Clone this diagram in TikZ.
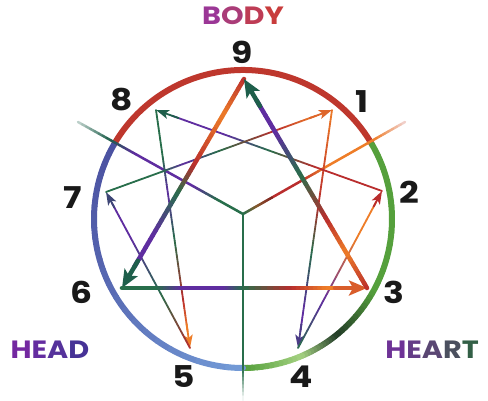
\documentclass[tikz,border=0pt]{standalone}
\usepackage{fontspec}
\newfontfamily\labelfont{Poppins}[FakeStretch=1.15]
\usetikzlibrary{calc,arrows.meta}

\definecolor{ered}{RGB}{185,45,45}
\definecolor{eorange}{RGB}{238,125,40}
\definecolor{egreen}{RGB}{40,110,75}
\definecolor{epurple}{RGB}{95,45,160}
\definecolor{eteal}{RGB}{30,95,75}
\definecolor{ringred}{RGB}{190,55,45}
\definecolor{ringgreen}{RGB}{85,160,60}
\definecolor{ringdark}{RGB}{35,60,40}
\definecolor{ringlight}{RGB}{165,210,130}
\definecolor{ringblue}{RGB}{75,80,160}
\definecolor{ringmid}{RGB}{85,100,175}
\definecolor{ringsky}{RGB}{115,155,215}
\definecolor{ink}{RGB}{25,25,25}

% one coloured stretch of a straight line
\newcommand\gpiece[7]{%
  \foreach \k in {1,...,8}{%
    \pgfmathsetmacro\ta{#3+(#4-#3)*(\k-1)/8}
    \pgfmathsetmacro\tb{#3+(#4-#3)*\k/8}
    \pgfmathtruncatemacro\mx{100-100*(\k-0.5)/8}
    \draw[line width=#7, draw=#5!\mx!#6] ($(#1)!\ta!(#2)$) -- ($(#1)!\tb!(#2)$);
  }}
% a whole line: from, to, width, first colour, stops t/colour
\newcommand\gline[5]{%
  \foreach \t/\c [remember=\t as \tp (initially 0), remember=\c as \cp (initially #4)] in {#5}{%
    \gpiece{#1}{#2}{\tp}{\t}{\cp}{\c}{#3}}}
% coloured stretch of the ring
\newcommand\garc[4]{%
  \foreach \k in {1,...,12}{%
    \pgfmathsetmacro\aa{#1+(#2-#1)*(\k-1)/12}
    \pgfmathsetmacro\ab{#1+(#2-#1)*\k/12}
    \pgfmathtruncatemacro\mx{100-100*(\k-0.5)/12}
    \draw[ring, draw=#3!\mx!#4] (\aa:149) arc[start angle=\aa, end angle=\ab, radius=149];
  }}

\begin{document}
\begin{tikzpicture}[
  x=1pt, y=1pt,
  line cap=round, line join=round,
  ring/.style={line width=6pt},
  num/.style={font=\labelfont\bfseries\fontsize{30}{30}\selectfont, text=ink, inner sep=0pt},
  word/.style={font=\labelfont\bfseries\fontsize{25}{25}\selectfont, inner sep=0pt},
  bigtip/.style={line width=4.5pt, -{Stealth[length=18pt, width=15pt, inset=4pt]}},
  smalltip/.style={line width=1.8pt, -{Stealth[length=13pt, width=9pt, inset=3pt]}}
  ]
  \useasboundingbox (-243,-182) rectangle (245,219);

  \coordinate (p9) at (1,140);
  \coordinate (p1) at (89,109);
  \coordinate (p2) at (139,28);
  \coordinate (p3) at (124,-69);
  \coordinate (p4) at (55,-129);
  \coordinate (p5) at (-53,-129);
  \coordinate (p6) at (-121,-69);
  \coordinate (p7) at (-137,27);
  \coordinate (p8) at (-87,109);

  \coordinate (j) at (0,5);
  \coordinate (ldiv) at (-165,97);
  \coordinate (rdiv) at (162,97);
  \coordinate (bdiv) at (0,-181);

  % ring
  \draw[ring, ringred] (150:149) arc[start angle=150, end angle=30, radius=149];
  \garc{30}{-30}{ringgreen}{ringgreen}
  \garc{-30}{-52}{ringgreen}{ringdark}
  \garc{-52}{-68}{ringdark}{ringlight}
  \garc{-68}{-90}{ringlight}{ringgreen}
  \garc{150}{200}{ringblue}{ringmid}
  \garc{200}{270}{ringmid}{ringsky}

  % centre lines
  \gline{ldiv}{j}{2.5pt}{white!75!eteal}{.2/eteal, .35/epurple, .7/epurple, .85/egreen, 1/egreen}
  \gline{rdiv}{j}{2.5pt}{white!80!ered}{.2/eorange, .5/eorange, .65/ered, .82/ered, .92/brown!70!black, 1/egreen}
  \gline{j}{bdiv}{2.5pt}{egreen}{.84/egreen, 1/white}

  % 1-4-2-8-5-7-1
  \gline{p1}{p4}{1.8pt}{eorange}{.4/ered, .6/egreen, .85/epurple, .93/epurple}
  \draw[smalltip, epurple!70!eteal] ($(p1)!.9!(p4)$) -- (p4);
  \gline{p4}{p2}{1.8pt}{egreen}{.3/epurple, .7/eorange, .93/eorange}
  \draw[smalltip, ered] ($(p4)!.9!(p2)$) -- (p2);
  \gline{p2}{p8}{1.8pt}{ered}{.3/ered, .5/egreen, .7/epurple, .93/epurple}
  \draw[smalltip, eteal] ($(p2)!.9!(p8)$) -- (p8);
  \gline{p8}{p5}{1.8pt}{egreen}{.2/egreen, .35/epurple, .55/egreen, .8/ered, .93/eorange}
  \draw[smalltip, eorange] ($(p8)!.9!(p5)$) -- (p5);
  \gline{p5}{p7}{1.8pt}{ered}{.35/egreen, .7/epurple, .93/epurple}
  \draw[smalltip, epurple!50!eteal] ($(p5)!.9!(p7)$) -- (p7);
  \gline{p7}{p1}{1.8pt}{egreen}{.25/egreen, .35/epurple, .5/egreen, .75/ered, .93/eorange}
  \draw[smalltip, eorange!70!ered] ($(p7)!.9!(p1)$) -- (p1);

  % 9-6-3-9
  \gline{p9}{p6}{4.5pt}{ered}{.18/eorange, .42/ered, .55/egreen, .75/epurple, .9/epurple}
  \draw[bigtip, eteal] ($(p9)!.87!(p6)$) -- (p6);
  \gline{p6}{p3}{4.5pt}{egreen}{.15/egreen, .25/epurple, .42/epurple, .5/egreen, .7/ered, .84/eorange, .9/eorange}
  \draw[bigtip, eorange!60!ered] ($(p6)!.87!(p3)$) -- (p3);
  \gline{p3}{p9}{4.5pt}{ered}{.18/eorange, .34/ered, .55/egreen, .75/epurple, .9/epurple}
  \draw[bigtip, eteal] ($(p3)!.87!(p9)$) -- (p9);

  % numbers
  \node[num] (l9) at (-1,167) {9};
  \node[num] (l8) at (-121,119) {8};
  \node[num] (l1) at (119,117) {1};
  \node[num] (l2) at (166,27) {2};
  \node[num] (l7) at (-170,21) {7};
  \node[num] (l6) at (-162,-73) {6};
  \node[num] (l3) at (151,-73) {3};
  \node[num] (l5) at (-59,-158) {5};
  \node[num] (l4) at (58,-158) {4};

  % centres
  \node[word] (body) at (0,203) {\textcolor[RGB]{155,55,150}{B}\textcolor[RGB]{170,60,120}{O}\textcolor[RGB]{190,60,85}{D}\textcolor[RGB]{200,60,60}{Y}};
  \node[word] (head) at (-193,-131) {\textcolor[RGB]{115,40,160}{H}\textcolor[RGB]{100,45,160}{E}\textcolor[RGB]{85,50,155}{A}\textcolor[RGB]{70,50,150}{D}};
  \node[word] (heart) at (189,-131) {\textcolor[RGB]{110,50,150}{H}\textcolor[RGB]{100,60,135}{E}\textcolor[RGB]{90,70,115}{A}\textcolor[RGB]{75,80,95}{R}\textcolor[RGB]{50,95,70}{T}};
\end{tikzpicture}
\end{document}
